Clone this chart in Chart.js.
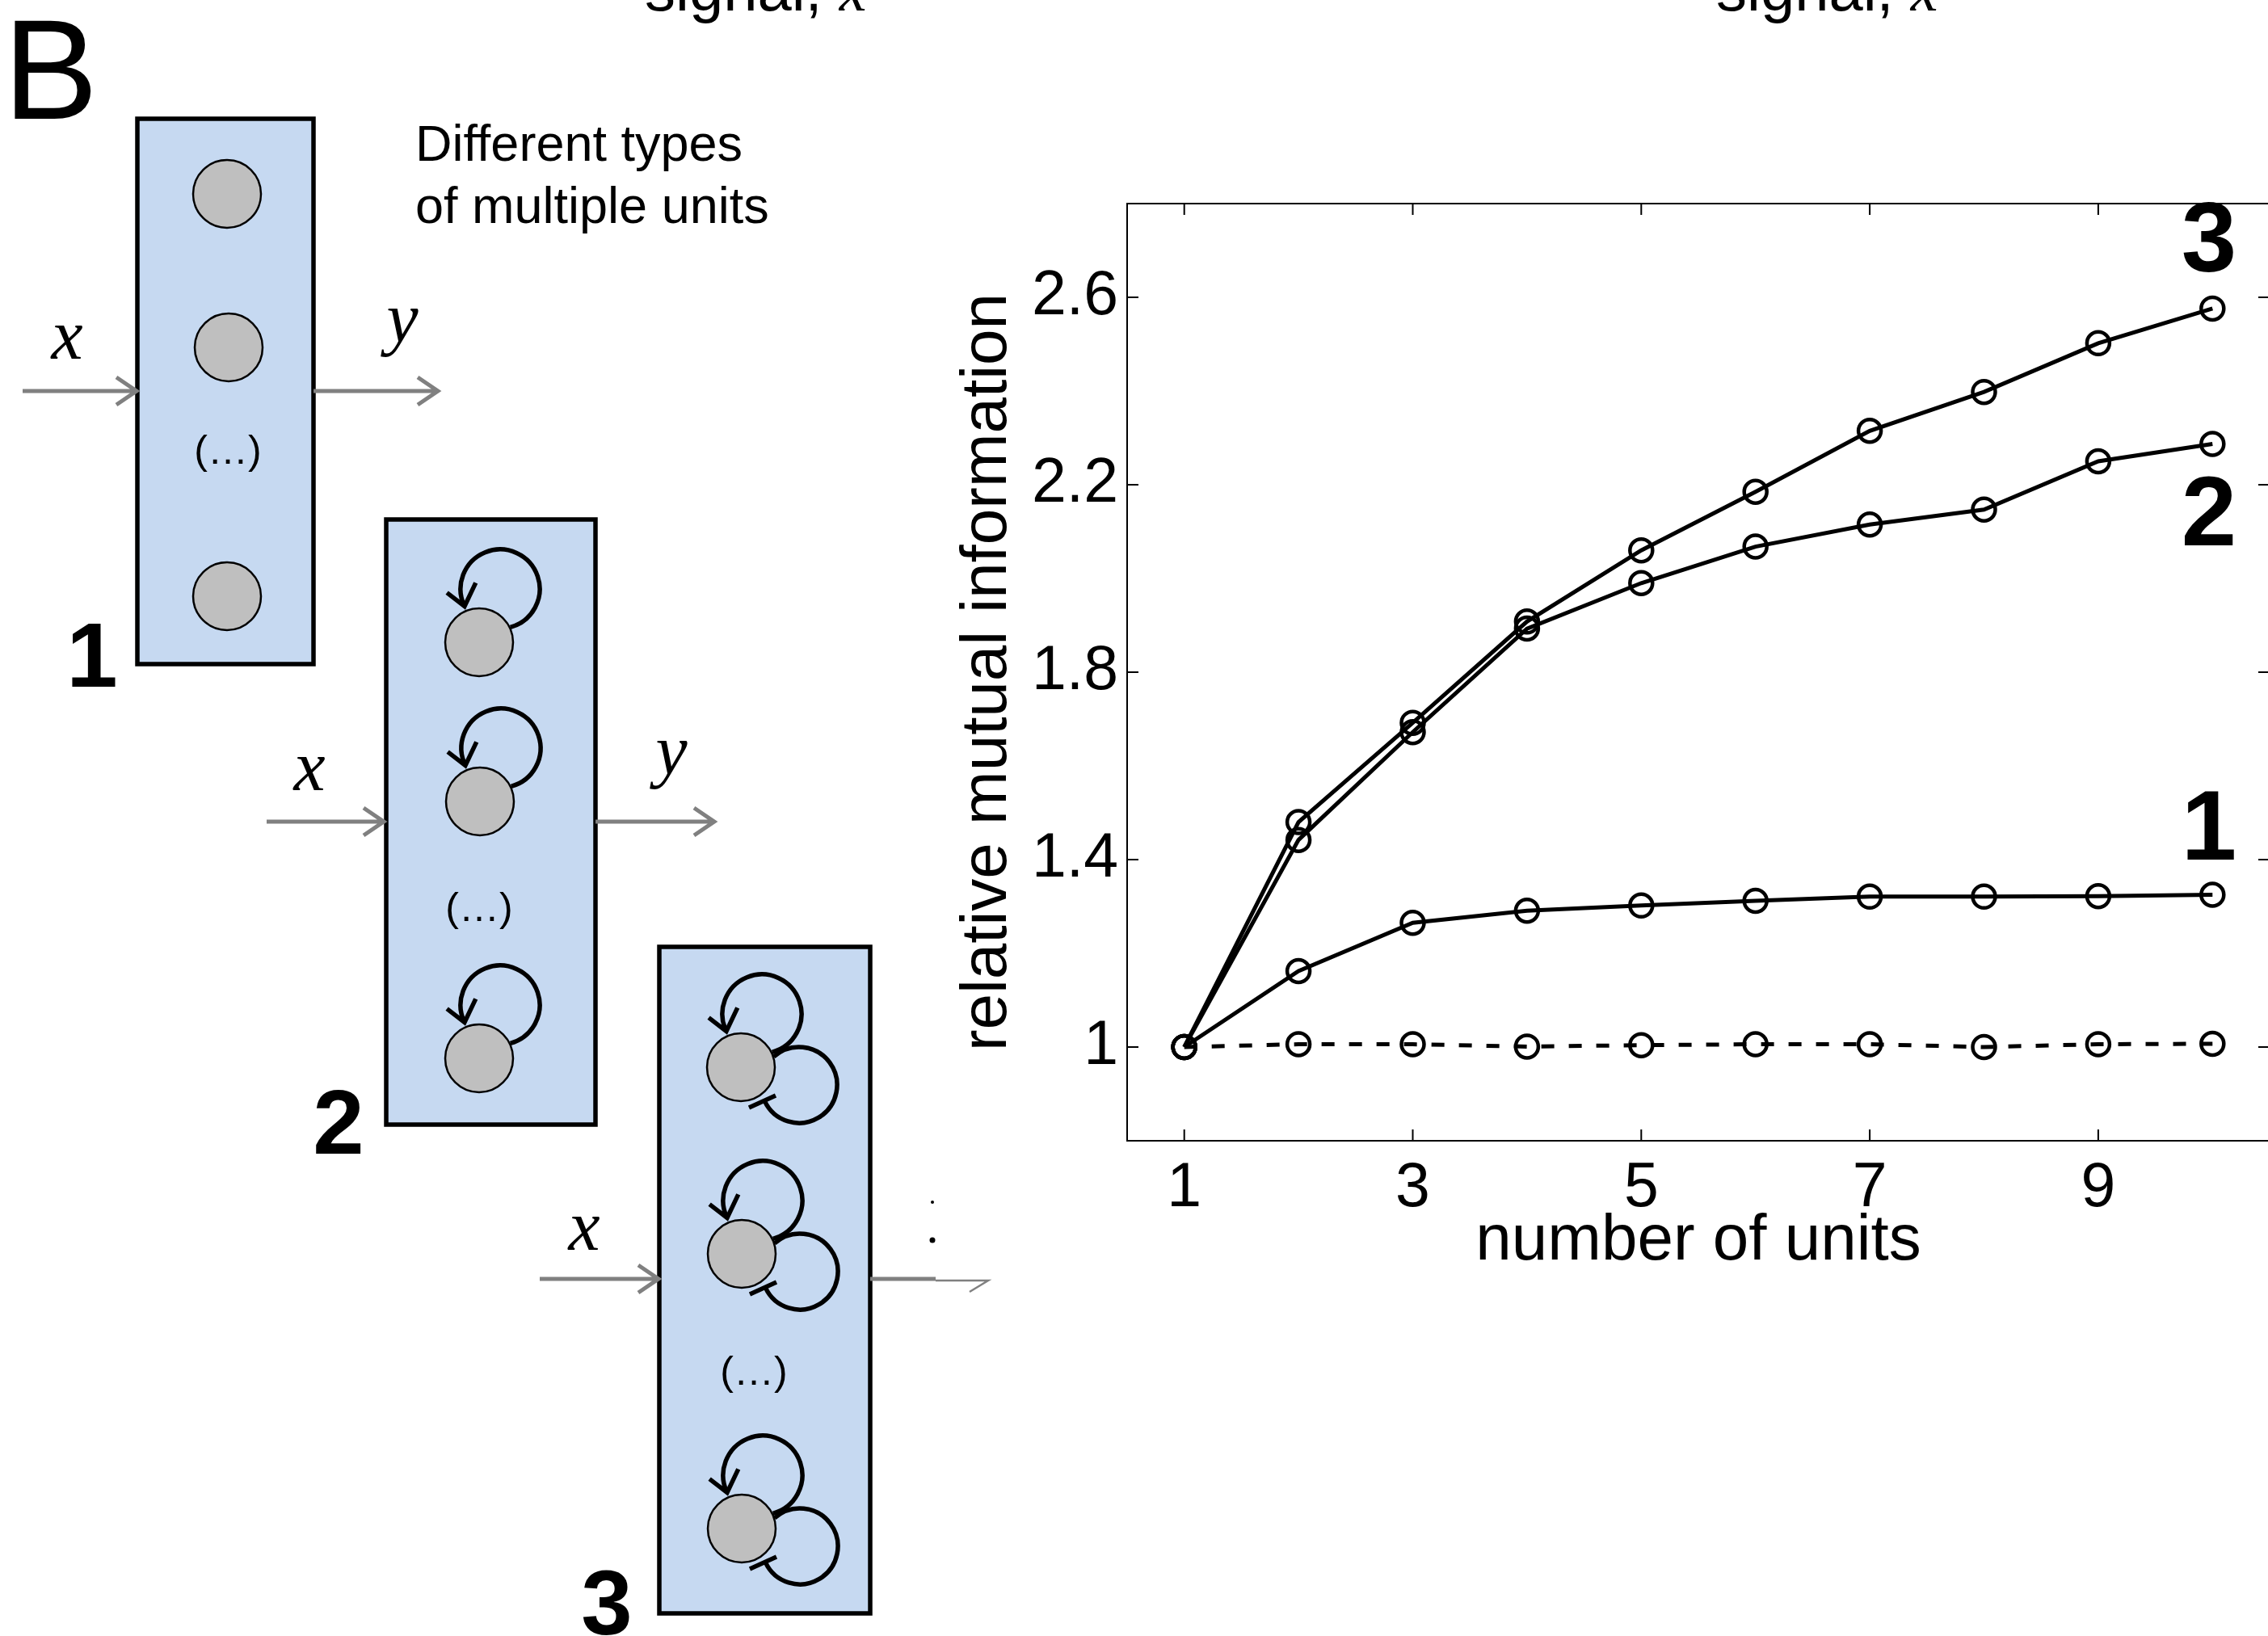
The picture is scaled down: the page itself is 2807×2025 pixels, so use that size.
<!DOCTYPE html>
<html>
<head>
<meta charset="utf-8">
<script src="https://cdn.jsdelivr.net/npm/chart.js@4.4.1/dist/chart.umd.min.js"></script>
<style>
  html, body { margin: 0; padding: 0; background: #fff; }
  body { width: 2807px; height: 2025px; overflow: hidden; position: relative; }
  #sketch, #chart { position: absolute; left: 0; top: 0; }
</style>
</head>
<body>
<svg id="sketch" width="2807" height="2025" xmlns="http://www.w3.org/2000/svg"></svg>
<canvas id="chart" width="2810" height="2025"></canvas>
<script>
// ---- chart data ----
const units    = [1, 2, 3, 4, 5, 6, 7, 8, 9, 10];
const miSingle = [1.0, 1.006, 1.006, 1.001, 1.004, 1.006, 1.006, 1.0, 1.006, 1.007];
const miType1  = [1.0, 1.162, 1.265, 1.291, 1.302, 1.312, 1.321, 1.321, 1.322, 1.325];
const miType2  = [1.0, 1.442, 1.672, 1.893, 1.990, 2.068, 2.115, 2.147, 2.250, 2.287];
const miType3  = [1.0, 1.480, 1.692, 1.908, 2.060, 2.185, 2.315, 2.398, 2.502, 2.576];

const xTicks      = [1, 3, 5, 7, 9];
const yTicks      = [1, 1.4, 1.8, 2.2, 2.6];
const yTickLabels = ['1', '1.4', '1.8', '2.2', '2.6'];

// curve tags drawn next to the right end of each curve
const curveTags = ['3', '2', '1'];
const tagUnits  = [9.97, 9.97, 9.97];
const tagValues = [2.714, 2.13, 1.458];

const SANS = "'Liberation Sans', Arial, Helvetica, sans-serif";
const SERIF = "'Liberation Serif', 'Times New Roman', serif";

// ==========================================
// SCHEMATIC — the three kinds of unit boxes
// drawn in plain SVG behind the chart canvas
// ==========================================
const NS = 'http://www.w3.org/2000/svg';
const svg = document.getElementById('sketch');
function add(tag, attrs, text) {
    const el = document.createElementNS(NS, tag);
    for (const k in attrs) el.setAttribute(k, attrs[k]);
    if (text !== undefined) el.textContent = text;
    svg.appendChild(el);
    return el;
}
const rad = d => d * Math.PI / 180;

function arrow(x1, x2, y) {
    add('path', {
        d: `M${x1} ${y}H${x2}M${x2 - 25} ${y - 17}L${x2} ${y}L${x2 - 25} ${y + 17}`,
        stroke: '#808080', 'stroke-width': 5, fill: 'none'
    });
}

// self-excitation: loop over the top with an arrow head
function excite(cx, cy) {
    const c = [cx + 26, cy - 66], r = 49;
    const p0 = [c[0] + r * Math.cos(rad(75)), c[1] + r * Math.sin(rad(75))];
    const p1 = [c[0] + r * Math.cos(rad(154)), c[1] + r * Math.sin(rad(154))];
    add('path', {
        d: `M${p0[0]} ${p0[1]}A${r} ${r} 0 1 0 ${p1[0]} ${p1[1]}` +
           `M${p1[0] - 21.8} ${p1[1] - 16.8}L${p1[0]} ${p1[1]}L${p1[0] + 13.8} ${p1[1] - 29.1}`,
        stroke: '#000', 'stroke-width': 5.5, fill: 'none'
    });
}

// self-inhibition: loop on the lower right ending in a bar
function inhibit(cx, cy) {
    const c = [cx + 72, cy + 22], r = 47;
    const p0 = [c[0] + r * Math.cos(rad(-132)), c[1] + r * Math.sin(rad(-132))];
    const p1 = [c[0] + r * Math.cos(rad(155)), c[1] + r * Math.sin(rad(155))];
    add('path', {
        d: `M${p0[0]} ${p0[1]}A${r} ${r} 0 1 1 ${p1[0]} ${p1[1]}` +
           `M${cx + 10} ${cy + 50}L${cx + 43} ${cy + 35}`,
        stroke: '#000', 'stroke-width': 5.5, fill: 'none'
    });
}

const boxes = [
    { x: 170, y: 147, w: 218, h: 675, type: 1,
      cells: [[281, 240], [283, 430], [281, 738]], dots: [282, 557] },
    { x: 478, y: 643, w: 259, h: 749, type: 2,
      cells: [[593, 795], [594, 992], [593, 1310]], dots: [593, 1123] },
    { x: 816, y: 1172, w: 261, h: 825, type: 3,
      cells: [[917, 1321], [918, 1552], [918, 1892]], dots: [933, 1697] }
];

boxes.forEach(b => {
    add('rect', { x: b.x, y: b.y, width: b.w, height: b.h,
                  fill: '#c6d9f1', stroke: '#000', 'stroke-width': 5.5 });
    b.cells.forEach(([cx, cy]) => {
        if (b.type >= 2) excite(cx, cy);
        if (b.type === 3) inhibit(cx, cy);
    });
    b.cells.forEach(([cx, cy]) => {
        add('ellipse', { cx, cy, rx: 42, ry: 42, fill: '#bfbfbf', stroke: '#000', 'stroke-width': 2.5 });
    });
    add('text', { x: b.dots[0], y: b.dots[1] + 17, 'text-anchor': 'middle',
                  'font-family': SANS, 'font-size': 50 }, '(\u2026)');
});

// input / output arrows
arrow(28, 169, 484);
arrow(388, 542, 484);
arrow(330, 475, 1017);
arrow(737, 884, 1017);
arrow(668, 815, 1583);
// output of box 3 is cut by the chart panel
add('path', { d: 'M1077 1583H1158', stroke: '#808080', 'stroke-width': 5, fill: 'none' });
add('path', { d: 'M1158 1585H1223L1200 1599', stroke: '#808080', 'stroke-width': 2.5, fill: 'none' });
add('circle', { cx: 1154, cy: 1488, r: 2, fill: '#000' });
add('circle', { cx: 1154, cy: 1535, r: 3.5, fill: '#000' });

// x / y labels
[['x', 83, 444], ['y', 498, 423], ['x', 383, 978], ['y', 831, 958], ['x', 723, 1547]]
    .forEach(([t, x, y]) => add('text', { x, y, 'text-anchor': 'middle', 'font-family': SERIF,
                                          'font-style': 'italic', 'font-size': 88 }, t));

// box numbers
[['1', 114, 850], ['2', 419, 1428], ['3', 751, 2023]]
    .forEach(([t, x, y]) => add('text', { x, y, 'text-anchor': 'middle', 'font-family': SANS,
                                          'font-weight': 'bold', 'font-size': 114 }, t));

add('text', { x: 4, y: 147, 'font-family': SANS, 'font-size': 176 }, 'B');
add('text', { x: 514, y: 199, 'font-family': SANS, 'font-size': 63 }, 'Different types');
add('text', { x: 514, y: 276, 'font-family': SANS, 'font-size': 63 }, 'of multiple units');

// clipped captions from the panel above
[798, 2124].forEach(x => {
    const t = add('text', { x, y: 13, 'font-family': SANS, 'font-size': 76 }, 'signal, ');
    const s = document.createElementNS(NS, 'tspan');
    s.setAttribute('font-family', SERIF);
    s.setAttribute('font-style', 'italic');
    s.textContent = 'x';
    t.appendChild(s);
});

// ==========================================
// CHART — MATLAB-like boxed axes, inward ticks
// ==========================================
const framePlugin = {
    id: 'frame',
    afterDatasetsDraw(chart) {
        const { ctx, chartArea: a, scales: { x, y } } = chart;
        ctx.save();
        ctx.strokeStyle = '#000';
        ctx.lineWidth = 2;
        ctx.strokeRect(a.left, a.top, a.right - a.left, a.bottom - a.top);
        ctx.beginPath();
        xTicks.forEach(v => {
            const px = x.getPixelForValue(v);
            ctx.moveTo(px, a.bottom); ctx.lineTo(px, a.bottom - 14);
            ctx.moveTo(px, a.top);    ctx.lineTo(px, a.top + 14);
        });
        yTicks.forEach(v => {
            const py = y.getPixelForValue(v);
            ctx.moveTo(a.left, py);  ctx.lineTo(a.left + 14, py);
            ctx.moveTo(a.right, py); ctx.lineTo(a.right - 14, py);
        });
        ctx.stroke();

        ctx.fillStyle = '#000';
        ctx.font = `bold 123px ${SANS}`;
        ctx.textAlign = 'center';
        ctx.textBaseline = 'middle';
        curveTags.forEach((t, i) => {
            ctx.fillText(t, x.getPixelForValue(tagUnits[i]), y.getPixelForValue(tagValues[i]));
        });
        ctx.restore();
    }
};

function series(values, dashed) {
    return {
        data: units.map((u, i) => ({ x: u, y: values[i] })),
        borderColor: '#000',
        borderWidth: 5,
        borderDash: dashed ? [16, 18] : [],
        pointRadius: 14,
        pointBorderWidth: 4.5,
        pointBorderColor: '#000',
        pointBackgroundColor: 'rgba(0,0,0,0)',
        tension: 0,
        fill: false
    };
}

const tickFont = { family: SANS, size: 77 };
const titleFont = { family: SANS, size: 80, lineHeight: 1.2 };

new Chart(document.getElementById('chart').getContext('2d'), {
    type: 'line',
    data: {
        datasets: [
            series(miSingle, true),
            series(miType1, false),
            series(miType2, false),
            series(miType3, false)
        ]
    },
    options: {
        responsive: false,
        animation: false,
        devicePixelRatio: 1,
        layout: { autoPadding: false, padding: { left: 1175, top: 252, right: 1, bottom: 440 } },
        plugins: { legend: { display: false }, tooltip: { enabled: false } },
        scales: {
            x: {
                type: 'linear',
                min: 0.5,
                max: 10.5,
                afterBuildTicks: s => { s.ticks = xTicks.map(v => ({ value: v })); },
                afterFit: s => { s.height = 173; s.paddingLeft = 0; s.paddingRight = 0; },
                grid: { display: false, drawTicks: false },
                border: { display: false },
                ticks: { font: tickFont, color: '#000', padding: 14, maxRotation: 0, autoSkip: false,
                         callback: v => String(v) },
                title: { display: true, text: 'number of units', font: titleFont, color: '#000', padding: 0 }
            },
            y: {
                min: 0.8,
                max: 2.8,
                afterBuildTicks: s => { s.ticks = yTicks.map(v => ({ value: v })); },
                afterFit: s => { s.width = 220; s.paddingTop = 0; s.paddingBottom = 0; },
                grid: { display: false, drawTicks: false },
                border: { display: false },
                ticks: { font: tickFont, color: '#000', padding: 11, autoSkip: false,
                         callback: (v, i) => yTickLabels[i] },
                title: { display: true, text: 'relative mutual information', font: titleFont, color: '#000', padding: 0 }
            }
        }
    },
    plugins: [framePlugin]
});
</script>
</body>
</html>
